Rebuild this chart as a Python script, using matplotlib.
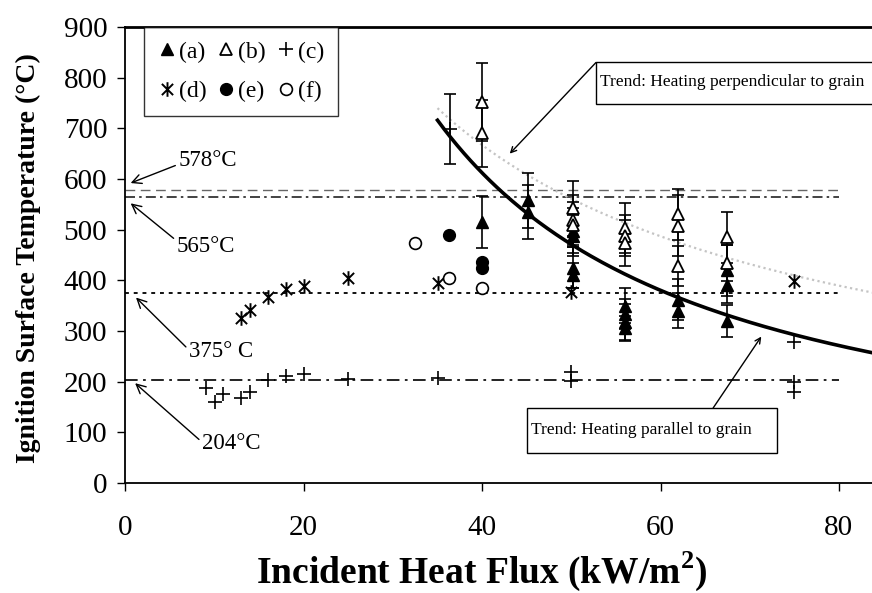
import matplotlib
matplotlib.use('Agg')
import matplotlib.pyplot as plt
import numpy as np
from matplotlib.lines import Line2D
from matplotlib.path import Path
from matplotlib.patches import Rectangle

plt.rcParams['font.family'] = ['Liberation Serif', 'DejaVu Serif']
plt.rcParams['mathtext.fontset'] = 'custom'
plt.rcParams['mathtext.rm'] = 'Liberation Serif'
plt.rcParams['mathtext.bf'] = 'Liberation Serif:bold'

# (a) filled triangles with error bars
a_x = [40, 45.2, 45.2, 50.2, 50.2, 50.2, 50.2, 56, 56, 56, 56, 62, 62, 67.5, 67.5, 67.5]
a_y = [515, 558, 535, 498, 488, 425, 410, 350, 334, 318, 305, 362, 340, 420, 390, 320]
a_err = [51, 54, 54, 45, 40, 40, 25, 35, 30, 35, 25, 40, 35, 50, 35, 32]

# (b) open triangles with error bars
b_x = [40, 40, 50.2, 50.2, 50.2, 56, 56, 56, 62, 62, 62, 67.5, 67.5]
b_y = [752, 690, 542, 519, 510, 503, 488, 474, 530, 508, 428, 485, 434]
b_err = [77, 66, 55, 50, 45, 50, 40, 45, 50, 60, 40, 50, 35]

# (c) plus
c_x = [9, 10, 11, 13, 14, 16, 18, 20, 25, 35, 50, 50, 75, 75, 75]
c_y = [187, 160, 175, 168, 180, 203, 211, 216, 205, 208, 220, 202, 279, 200, 180]
c_bar_x = [36.4]
c_bar_y = [698]
c_bar_err = [69]

# (d) asterisk
d_x = [13, 14, 16, 18, 20, 25, 35, 50, 75]
d_y = [325, 341, 367, 383, 389, 404, 394, 377, 399]

# (e) filled circles, (f) open circles
e_x = [36.3, 40, 40]
e_y = [489, 436, 424]
f_x = [32.5, 36.3, 40]
f_y = [473, 405, 384]

# reference temperatures
ref_temps = [578, 565, 375, 204]
ref_labels = ['578°C', '565°C', '375° C', '204°C']

# power-law trend lines: y = a * (x / x0) ** b
trend_parallel = (716, 35, -1.174)
trend_perpendicular = (667, 40, -0.776)

W, H = 872, 593
fig = plt.figure(figsize=(W / 100, H / 100), dpi=100)
left, right, bottom, top = 125.3, 872, 483, 27
ax = fig.add_axes([left / W, 1 - bottom / H, (right - left) / W, (bottom - top) / H])
ax.set_xlim(0, (right - left) / 8.92)
ax.set_ylim(0, 900)

# reference lines
line_styles = [
    dict(color='#666666', lw=1.0, ls=(0, (7, 4))),
    dict(color='#222222', lw=1.2, ls=(0, (6, 2.5, 1.5, 2.5))),
    dict(color='#111111', lw=1.4, ls=(0, (2, 2.5))),
    dict(color='#111111', lw=1.3, ls=(0, (7, 3, 1.5, 3))),
]
for t, st in zip(ref_temps, line_styles):
    ax.plot([0, 80], [t, t], **st, zorder=1)

# trend curves
xs = np.linspace(35, 84, 200)
a0, x0, b0 = trend_perpendicular
ax.plot(xs, a0 * (xs / x0) ** b0, color='#c4c4c4', lw=1.6, ls=(0, (1, 1.5)), zorder=1)
a0, x0, b0 = trend_parallel
ax.plot(xs, a0 * (xs / x0) ** b0, color='black', lw=2.6, zorder=4)

# error bars
eb = dict(fmt='none', ecolor='black', elinewidth=1.2, capsize=4, capthick=1.2, zorder=2)
ax.errorbar(a_x, a_y, yerr=a_err, **eb)
ax.errorbar(b_x, b_y, yerr=b_err, **eb)
ax.errorbar(c_bar_x, c_bar_y, yerr=c_bar_err, **eb)

star = Path([(-1, -1), (1, 1), (-1, 1), (1, -1), (0, -1.3), (0, 1.3)],
            [Path.MOVETO, Path.LINETO, Path.MOVETO, Path.LINETO, Path.MOVETO, Path.LINETO])

ms = 8.5
st_a = dict(ls='none', marker='^', ms=ms, mfc='black', mec='black')
st_b = dict(ls='none', marker='^', ms=ms, mfc='white', mec='black', mew=1.3)
st_c = dict(ls='none', marker='+', ms=9.5, mec='black', mew=1.2)
st_d = dict(ls='none', marker=star, ms=10.5, mec='black', mfc='none', mew=1.4)
st_e = dict(ls='none', marker='o', ms=ms, mfc='black', mec='black')
st_f = dict(ls='none', marker='o', ms=ms, mfc='white', mec='black', mew=1.2)

ax.plot(a_x, a_y, **st_a, zorder=5)
ax.plot(b_x, b_y, **st_b, zorder=5)
ax.plot(c_x + c_bar_x, c_y + c_bar_y, **st_c, zorder=5)
ax.plot(d_x, d_y, **st_d, zorder=5)
ax.plot(e_x, e_y, **st_e, zorder=5)
ax.plot(f_x, f_y, **st_f, zorder=5)

# legend (column-wise fill gives rows a b c / d e f)
handles = [Line2D([], [], **s) for s in (st_a, st_d, st_b, st_e, st_c, st_f)]
labels = ['(a)', '(d)', '(b)', '(e)', '(c)', '(f)']
leg = ax.legend(handles, labels, ncol=3, loc='upper left', bbox_to_anchor=(0.0255, 1.0),
                borderaxespad=0, fontsize=17, frameon=True, fancybox=False,
                edgecolor='black', handlelength=0.7, handletextpad=0.15,
                columnspacing=0.5, labelspacing=0.75, borderpad=0.6)
leg.get_frame().set_linewidth(1.0)

# reference labels with arrows
arrow = dict(arrowstyle='->', color='black', lw=1.0, shrinkA=0, shrinkB=0)
ax.annotate(ref_labels[0], xy=(0.6, 592), xytext=(9.2, 637), fontsize=16.5,
            ha='center', va='center', arrowprops=dict(arrow, relpos=(0, 0.3)))
ax.annotate(ref_labels[1], xy=(0.6, 552), xytext=(9.0, 466), fontsize=16.5,
            ha='center', va='center', arrowprops=dict(arrow, relpos=(0, 0.8)))
ax.annotate(ref_labels[2], xy=(1.2, 366), xytext=(10.7, 259), fontsize=16.5,
            ha='center', va='center', arrowprops=dict(arrow, relpos=(0, 0.6)))
ax.annotate(ref_labels[3], xy=(1.1, 197), xytext=(11.85, 77), fontsize=16.5,
            ha='center', va='center', arrowprops=dict(arrow, relpos=(0, 0.6)))

# trend boxes
ax.add_patch(Rectangle((52.77, 747.5), 32, 83, fc='white', ec='black', lw=1.0,
                       zorder=6, clip_on=True))
ax.text(53.2, 792, 'Trend: Heating perpendicular to grain', fontsize=12.6,
        ha='left', va='center', zorder=7)
ax.annotate('', xy=(43.1, 650), xytext=(52.77, 830), arrowprops=arrow, zorder=6)
ax.add_patch(Rectangle((45.03, 59.2), 28.03, 88.7, fc='white', ec='black', lw=1.0, zorder=6))
ax.text(45.5, 104.5, 'Trend: Heating parallel to grain', fontsize=12.6,
        ha='left', va='center', zorder=7)
ax.annotate('', xy=(71.3, 289), xytext=(65.9, 148), arrowprops=arrow, zorder=6)

# axes styling
ax.spines['right'].set_visible(False)
ax.spines['top'].set_linewidth(2.0)
for s in ('left', 'bottom'):
    ax.spines[s].set_linewidth(1.3)
ax.set_xticks([0, 20, 40, 60, 80])
ax.set_yticks(range(0, 901, 100))
ax.tick_params(axis='y', direction='out', length=6, width=1, pad=7, labelsize=21)
ax.tick_params(axis='x', direction='out', length=6, width=1, pad=17, labelsize=21)

fig.text(482 / W, 1 - 571 / H, 'Incident Heat Flux (kW/m$^{\\mathbf{2}}$)', fontsize=27,
         fontweight='bold', ha='center', va='center')
fig.text(28 / W, 1 - 258 / H, 'Ignition Surface Temperature (°C)', fontsize=20,
         fontweight='bold', ha='center', va='center', rotation=90)

fig.savefig('out.png', dpi=100)
